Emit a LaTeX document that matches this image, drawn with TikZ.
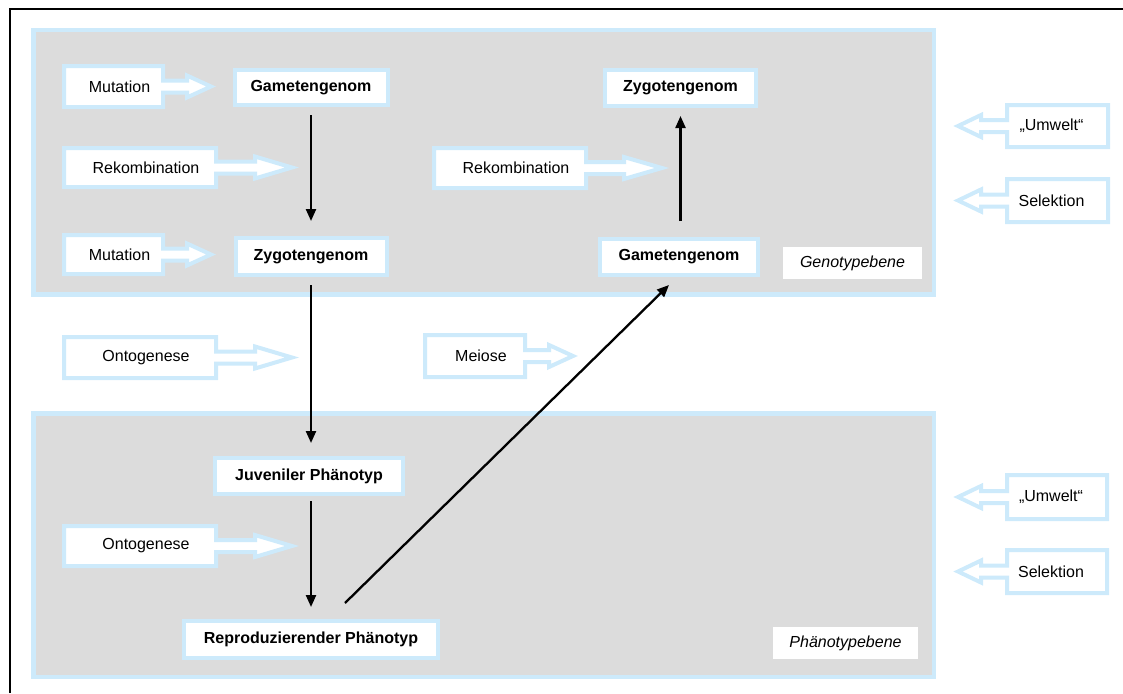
\documentclass[tikz,border=0pt]{standalone}
\usepackage{fontspec}
\setmainfont{Liberation Sans}
\usetikzlibrary{arrows.meta,calc}
\definecolor{paleblue}{HTML}{CDEAFB}
\definecolor{panelgrey}{HTML}{DCDCDC}
\newcommand{\basesize}{\fontsize{16}{19}\selectfont}
\tikzset{
  panel/.style={fill=panelgrey, draw=paleblue, line width=4.5pt},
  stagebox/.style={fill=white, draw=paleblue, line width=4pt, inner sep=0pt, font=\basesize\bfseries},
  levellabel/.style={fill=white, inner sep=0pt, font=\basesize\itshape},
  callout/.style={fill=white, draw=paleblue, line width=4pt, miter limit=10},
  calloutText/.style={font=\basesize, inner sep=0pt},
  flow/.style={line width=2.3pt, -{Triangle[length=12pt,width=10pt]}},
}
% hollow block arrow with a text box:
% #1 name, #2 far x, #3 near x, #4 top y, #5 bottom y, #6 head base x, #7 tip x, #8 text
\newcommand{\influence}[8]{%
  \pgfmathsetmacro\infcy{(#4+#5)/2}%
  \pgfmathsetmacro\inftx{(#2+#3)/2+6*sign(#3-#2)}%
  \draw[callout] (#2,#4) -- (#3,#4) -- (#3,\infcy-6) -- (#6,\infcy-6) -- (#6,\infcy-11)
    -- (#7,\infcy) -- (#6,\infcy+11) -- (#6,\infcy+6) -- (#3,\infcy+6) -- (#3,#5) -- (#2,#5) -- cycle;
  \node[calloutText] (#1) at (\inftx,\infcy) {#8};
}
\begin{document}
\begin{tikzpicture}[x=1pt,y=-1pt]
\useasboundingbox (0,0) rectangle (1123,693);

% frame
\draw[line width=2pt] (10.3,693) -- (10.3,9) -- (1123,9);

% levels
\draw[panel] (33.5,30) rectangle (934,294.5);
\draw[panel] (33.5,413.5) rectangle (934,677);
\node[levellabel, minimum width=139pt, minimum height=32pt] (geno) at (852.5,263) {Genotypebene};
\node[levellabel, minimum width=145pt, minimum height=32pt] (pheno) at (845.5,643) {Phänotypebene};

% stages
\node[stagebox, minimum width=153pt, minimum height=35pt] (gamT) at (311,87.5) {Gametengenom};
\node[stagebox, minimum width=151pt, minimum height=37pt] (zygL) at (311,256.5) {Zygotengenom};
\node[stagebox, minimum width=151pt, minimum height=36pt] (zygR) at (680.5,88) {Zygotengenom};
\node[stagebox, minimum width=158pt, minimum height=36pt] (gamR) at (679,257) {Gametengenom};
\node[stagebox, minimum width=188pt, minimum height=36pt] (juv) at (309,476) {Juveniler Phänotyp};
\node[stagebox, minimum width=254pt, minimum height=37pt] (repro) at (311,639.5) {Reproduzierender Phänotyp};

% influences
\influence{mut1}{64}{163}{66}{107}{187}{211}{Mutation}
\influence{rek1}{64}{216}{148}{187}{255}{292}{Rekombination}
\influence{mut2}{64}{163}{235}{274}{187}{211}{Mutation}
\influence{rek2}{434}{586}{148}{188}{624}{662}{Rekombination}
\influence{onto1}{64}{216}{337}{378}{255}{292}{Ontogenese}
\influence{meio}{425}{525}{335}{377}{549}{573}{Meiose}
\influence{onto2}{64}{216}{526}{566}{255}{292}{Ontogenese}
\influence{umw1}{1108}{1007}{105}{147}{981}{958}{„Umwelt“}
\influence{sel1}{1108}{1007}{179}{222}{981}{958}{Selektion}
\influence{umw2}{1107}{1007}{475}{519}{981}{958}{„Umwelt“}
\influence{sel2}{1107}{1007}{550}{593}{981}{958}{Selektion}

% life cycle
\draw[flow, shorten <=8pt, shorten >=15pt] (gamT.south) -- (zygL.north);
\draw[flow, shorten <=8pt, shorten >=13pt] (zygL.south) -- (zygL.south |- juv.north);
\draw[flow, shorten <=5pt, shorten >=12pt] (repro.north |- juv.south) -- (repro.north);
\coordinate (mstart) at (345,603);
\draw[flow] (mstart) -- ($(gamR.south)+(-10,8)$);
\draw[flow, shorten <=16pt, shorten >=8pt] (zygR.south |- gamR.north) -- (zygR.south);
\end{tikzpicture}
\end{document}
